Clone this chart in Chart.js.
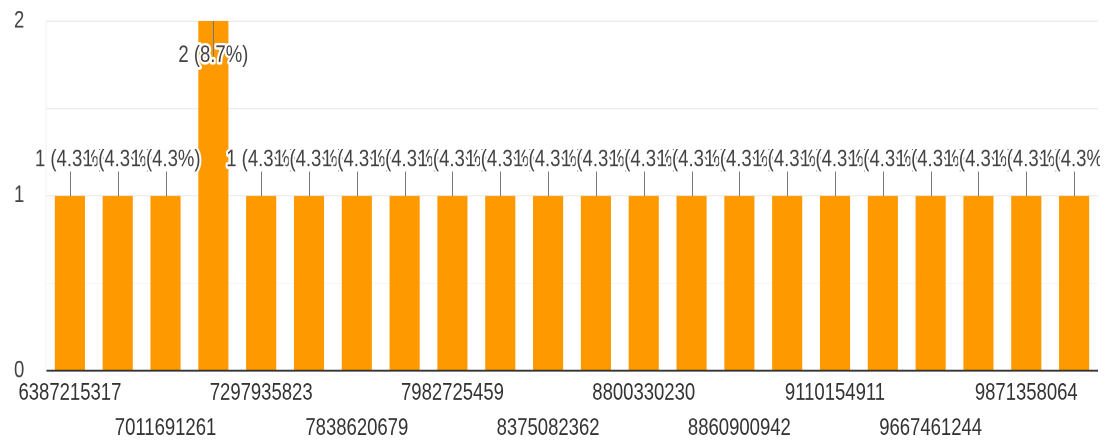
<!DOCTYPE html>
<html>
<head>
<meta charset="utf-8">
<script src="https://cdn.jsdelivr.net/npm/chart.js@4/dist/chart.umd.min.js"></script>
<style>
  html, body { margin: 0; padding: 0; background: #fff; }
  body { width: 1115px; height: 440px; }
  #wrap { width: 1115px; height: 344px; transform: scaleY(1.2791); transform-origin: 0 0; }
</style>
</head>
<body>
<div id="wrap"><canvas id="c" width="1115" height="344"></canvas></div>
<script>
// Responses per phone number
const categories = [
  '6387215317', '6398104527', '7011691261', '7206375819', '7297935823', '7503918264',
  '7838620679', '7905362148', '7982725459', '8290467315', '8375082362', '8527193640',
  '8800330230', '8826471953', '8860900942', '9015738246', '9110154911', '9354826107',
  '9667461244', '9811052673', '9871358064', '9958214730'
];
const counts = [1, 1, 1, 2, 1, 1, 1, 1, 1, 1, 1, 1, 1, 1, 1, 1, 1, 1, 1, 1, 1, 1];
const yTickLabels = ['0', '1', '2'];

const FONT = "'Liberation Sans', Arial, sans-serif";
const total = counts.reduce((a, b) => a + b, 0);

const valueLabels = {
  id: 'valueLabels',
  afterDatasetsDraw(chart) {
    const ctx = chart.ctx;
    const meta = chart.getDatasetMeta(0);
    const area = chart.chartArea;
    ctx.save();
    ctx.beginPath();
    ctx.rect(0, 0, area.right + 2, chart.height);
    ctx.clip();
    ctx.font = '18.5px ' + FONT;
    ctx.textAlign = 'center';
    ctx.textBaseline = 'middle';
    meta.data.forEach((bar, i) => {
      const v = counts[i];
      const text = v + ' (' + (v / total * 100).toFixed(1) + '%)';
      const top = bar.y;
      const inside = top - 38 < area.top;
      const cy = inside ? top + 27 : top - 28;
      const lineEnd = inside ? cy : cy + 9;
      ctx.strokeStyle = '#7a7a7a';
      ctx.lineWidth = 1;
      ctx.beginPath();
      ctx.moveTo(Math.round(bar.x) + 0.5, top);
      ctx.lineTo(Math.round(bar.x) + 0.5, lineEnd);
      ctx.stroke();
      ctx.lineJoin = 'round';
      ctx.lineWidth = 4;
      ctx.strokeStyle = '#ffffff';
      ctx.strokeText(text, bar.x, cy);
      ctx.fillStyle = '#424242';
      ctx.fillText(text, bar.x, cy);
    });
    ctx.restore();
  }
};

new Chart(document.getElementById('c'), {
  type: 'bar',
  data: {
    labels: categories,
    datasets: [{
      data: counts,
      backgroundColor: '#ff9900',
      borderWidth: 0,
      categoryPercentage: 1,
      barPercentage: 0.63
    }]
  },
  options: {
    responsive: false,
    animation: false,
    devicePixelRatio: 2,
    layout: { padding: { top: 16.5, right: 17, left: 14, bottom: 0 } },
    plugins: { legend: { display: false }, tooltip: { enabled: false } },
    scales: {
      x: {
        grid: { display: false },
        border: { display: false },
        ticks: {
          autoSkip: false,
          maxRotation: 0,
          minRotation: 0,
          padding: -4.4,
          color: '#333333',
          font: { family: FONT, size: 18.5, lineHeight: 1.5 },
          callback: (val, i) => {
            if (i % 2 === 1) return '';
            return i % 4 === 0 ? categories[i] : ['', categories[i]];
          }
        },
        afterFit: (s) => { s.height = 54.2; }
      },
      y: {
        min: 0,
        max: 2,
        grid: {
          drawTicks: false,
          color: (c) => {
            const v = c.tick ? c.tick.value : null;
            if (v === 0) return '#333333';
            return Number.isInteger(v) || v === 1.5 ? '#ececec' : '#f7f7f7';
          },
          lineWidth: (c) => c.tick && c.tick.value === 0 ? 1.5 : 1
        },
        border: { display: true, color: '#f0f0f0' },
        ticks: {
          stepSize: 0.5,
          padding: 0,
          crossAlign: 'far',
          color: '#444444',
          font: { family: FONT, size: 18.5 },
          callback: (v) => Number.isInteger(v) ? yTickLabels[v] : ''
        },
        afterFit: (s) => { s.width = 32; }
      }
    }
  },
  plugins: [valueLabels]
});
</script>
</body>
</html>
